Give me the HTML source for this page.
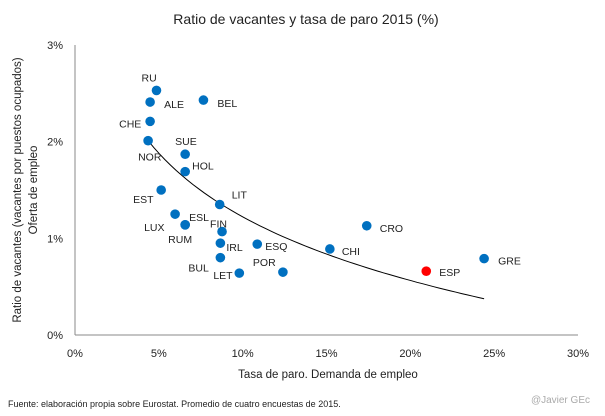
<!DOCTYPE html>
<html><head><meta charset="utf-8"><style>
html,body{margin:0;padding:0;background:#fff;}
svg{display:block;font-family:"Liberation Sans",sans-serif;}
</style></head><body>
<svg id="chart" width="605" height="416" viewBox="0 0 605 416">
<text x="306" y="24" text-anchor="middle" font-size="14" fill="#222">Ratio de vacantes y tasa de paro 2015 (%)</text>
<g id="axes"></g>
<g id="trend"></g>
<g id="points"></g>
<text x="328" y="378" text-anchor="middle" font-size="11.5" fill="#222">Tasa de paro. Demanda de empleo</text>
<text transform="translate(21,190) rotate(-90)" text-anchor="middle" font-size="11.5" fill="#222">Ratio de vacantes (vacantes por puestos ocupados)</text>
<text transform="translate(37,190) rotate(-90)" text-anchor="middle" font-size="11.5" fill="#222">Oferta de empleo</text>
<text x="8" y="407" font-size="9" fill="#222">Fuente: elaboración propia sobre Eurostat. Promedio de cuatro encuestas de 2015.</text>
<text x="590" y="403" text-anchor="end" font-size="10" fill="#aaa">@Javier GEc</text>
</svg>
<script>
const countries=["RU","ALE","BEL","CHE","NOR","SUE","HOL","EST","LIT","LUX","ESL","FIN","RUM","IRL","ESQ","BUL","LET","POR","CHI","CRO","ESP","GRE"];
const unemployment=[4.86,4.48,7.66,4.48,4.36,6.57,6.57,5.14,8.63,5.97,6.57,8.77,6.57,8.67,10.87,8.67,9.8,12.4,15.2,17.4,20.95,24.4];
const vacancies=[2.53,2.41,2.43,2.21,2.01,1.87,1.69,1.50,1.35,1.25,1.14,1.07,1.14,0.95,0.94,0.80,0.64,0.65,0.89,1.13,0.66,0.79];
const xTicks=[0,5,10,15,20,25,30];
const yTicks=[0,1,2,3];
const trendCoef=[3.41,-0.95];
const trendRange=[4.36,24.4];
// label layout offsets (pixels relative to point) - layout only
const labelDX=[-15,14,14,-31,-10,-10,7,-28,12,-31,4,-12,-17,6,8,-32,-26,-30,12,13,13,14];
const labelDY=[-13,2,3,2,16,-13,-6,9,-10,13,-8,-8,14,4,2,10,2,-10,2,2,1,2];

const ns="http://www.w3.org/2000/svg";
const svg=document.getElementById('chart');
const X0=75,X1=578,Y0=335,Y1=45;
const xs=v=>X0+(v-0)/30*(X1-X0);
const ys=v=>Y0-(v-0)/3*(Y0-Y1);
function mk(tag,attrs,parent){const e=document.createElementNS(ns,tag);for(const k in attrs)e.setAttribute(k,attrs[k]);parent.appendChild(e);return e;}

const axes=document.getElementById('axes');
let l=mk('line',{x1:X0,y1:Y1,x2:X0,y2:Y0,stroke:'#888','stroke-width':1},axes);


l=mk('line',{x1:X0,y1:Y0,x2:X1,y2:Y0,stroke:'#888','stroke-width':1},axes);


xTicks.forEach(t=>{
  const e=mk('text',{x:xs(t),y:357,'text-anchor':'middle','font-size':11,fill:'#222'},axes);
  e.textContent=t+'%';
  
  
});
yTicks.forEach(t=>{
  const e=mk('text',{x:63,y:ys(t)+4,'text-anchor':'end','font-size':11,fill:'#222'},axes);
  e.textContent=t+'%';
  
  
});

const trend=document.getElementById('trend');
let d='';
for(let i=0;i<=60;i++){
  const x=trendRange[0]+(trendRange[1]-trendRange[0])*i/60;
  const y=trendCoef[0]+trendCoef[1]*Math.log(x);
  d+=(i?'L':'M')+xs(x).toFixed(1)+','+ys(y).toFixed(1);
}
const tp=mk('path',{d:d,fill:'none',stroke:'#000','stroke-width':1},trend);



const pts=document.getElementById('points');
countries.forEach((c,i)=>{
  const cx=xs(unemployment[i]),cy=ys(vacancies[i]);
  const p=mk('circle',{cx:cx,cy:cy,r:4.8,fill:c==='ESP'?'#ff0000':'#0070c0'},pts);
  
  
  const t=mk('text',{x:cx+labelDX[i],y:cy+labelDY[i]+4,'font-size':10.5,fill:'#222'},pts);
  t.textContent=c;
  
  
});
</script>
</body></html>
